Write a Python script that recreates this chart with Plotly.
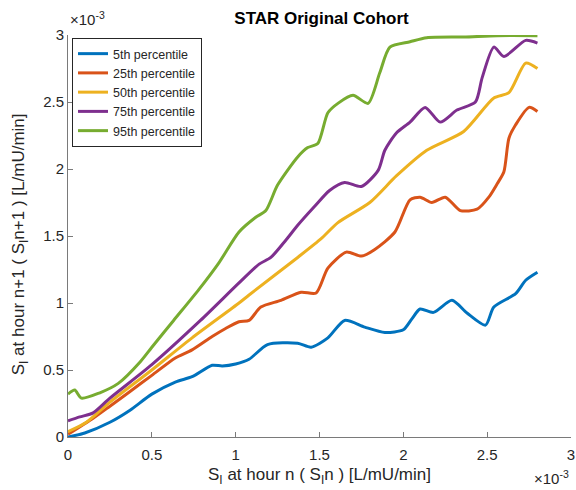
import plotly.graph_objects as go

# Data (values in units of 1e-3 L/mU/min)
p5_x = [0, 0.1, 0.25, 0.37, 0.5, 0.64, 0.74, 0.86, 0.92, 1.0, 1.08, 1.19, 1.37, 1.45, 1.55, 1.65,
        1.77, 1.89, 2.0, 2.05, 2.10, 2.18, 2.29, 2.38, 2.49, 2.54, 2.67, 2.73, 2.80]
p5_y = [0, 0.03, 0.11, 0.20, 0.32, 0.41, 0.45, 0.535, 0.53, 0.545, 0.58, 0.69, 0.70, 0.67, 0.74, 0.87,
        0.82, 0.78, 0.80, 0.88, 0.955, 0.93, 1.02, 0.925, 0.835, 0.97, 1.07, 1.17, 1.23]

p25_x = [0, 0.15, 0.25, 0.37, 0.5, 0.64, 0.74, 0.86, 0.94, 1.02, 1.08, 1.15, 1.27, 1.39, 1.48, 1.55,
         1.66, 1.75, 1.83, 1.95, 2.04, 2.10, 2.17, 2.25, 2.34, 2.44, 2.51, 2.56, 2.60, 2.63, 2.67, 2.75, 2.80]
p25_y = [0.02, 0.14, 0.23, 0.34, 0.46, 0.59, 0.65, 0.75, 0.81, 0.86, 0.87, 0.97, 1.02, 1.08, 1.075, 1.26,
         1.38, 1.35, 1.40, 1.53, 1.77, 1.79, 1.75, 1.79, 1.69, 1.70, 1.79, 1.89, 1.98, 2.23, 2.33, 2.46, 2.43]

p50_x = [0, 0.11, 0.25, 0.5, 0.74, 1.02, 1.08, 1.37, 1.51, 1.61, 1.80, 1.96, 2.14, 2.36, 2.54, 2.63, 2.73, 2.80]
p50_y = [0.04, 0.11, 0.26, 0.50, 0.74, 1.00, 1.06, 1.34, 1.48, 1.60, 1.75, 1.95, 2.14, 2.28, 2.53, 2.57, 2.79, 2.75]

p75_x = [0, 0.07, 0.15, 0.25, 0.5, 0.79, 1.02, 1.14, 1.21, 1.30, 1.37, 1.47, 1.56, 1.65, 1.75, 1.85,
         1.89, 1.96, 2.04, 2.13, 2.22, 2.32, 2.43, 2.47, 2.54, 2.60, 2.73, 2.80]
p75_y = [0.12, 0.15, 0.18, 0.29, 0.54, 0.87, 1.15, 1.29, 1.34, 1.47, 1.58, 1.72, 1.84, 1.90, 1.87, 1.99,
         2.14, 2.27, 2.35, 2.46, 2.35, 2.44, 2.50, 2.68, 2.91, 2.84, 2.96, 2.94]

p95_x = [0, 0.04, 0.08, 0.19, 0.3, 0.43, 0.5, 0.63, 0.78, 0.9, 1.02, 1.12, 1.18, 1.25, 1.37, 1.43, 1.49,
         1.55, 1.61, 1.70, 1.79, 1.86, 1.92, 2.04, 2.14, 2.36, 2.56, 2.80]
p95_y = [0.32, 0.35, 0.29, 0.33, 0.40, 0.56, 0.67, 0.87, 1.10, 1.30, 1.53, 1.64, 1.69, 1.88, 2.09, 2.16, 2.19,
         2.42, 2.49, 2.55, 2.49, 2.72, 2.91, 2.95, 2.98, 2.985, 2.995, 2.995]

names = ["5th percentile", "25th percentile", "50th percentile", "75th percentile", "95th percentile"]
colors = ["#0072BD", "#D95319", "#EDB120", "#7E2F8E", "#77AC30"]
series = [(p5_x, p5_y), (p25_x, p25_y), (p50_x, p50_y), (p75_x, p75_y), (p95_x, p95_y)]
scale = 1e-3
x_ticks = [0, 0.5, 1, 1.5, 2, 2.5, 3]
y_ticks = [0, 0.5, 1, 1.5, 2, 2.5, 3]

FONT = "Liberation Sans, Arial, Helvetica, sans-serif"
TXT = "#262626"
AX = "#7a7a7a"

fig = go.Figure()
for (xs, ys), n, c in zip(series, names, colors):
    fig.add_trace(go.Scatter(
        x=[v * scale for v in xs], y=[v * scale for v in ys], mode="lines", name=n,
        line=dict(color=c, width=3, shape="spline", smoothing=0.7)))

fig.update_layout(
    width=576, height=490,
    margin=dict(l=68, r=1, t=35, b=53),
    paper_bgcolor="white", plot_bgcolor="white",
    font=dict(family=FONT, color=TXT, size=15),
    title=dict(text="<b>STAR Original Cohort</b>", x=(68 + 575) / 2 / 576, xanchor="center",
               y=1 - 18 / 490, yanchor="middle", font=dict(size=17, color="#000000")),
    showlegend=True,
    legend=dict(x=0.008, y=0.9925, xanchor="left", yanchor="top",
                bgcolor="white", bordercolor=TXT, borderwidth=1,
                font=dict(size=12.5, color=TXT), tracegroupgap=0),
)
fig.update_xaxes(range=[0, 3.0002 * scale], tickvals=[t * scale for t in x_ticks],
                 ticktext=[f"{t:g}" for t in x_ticks], ticks="inside", ticklen=5,
                 tickcolor=AX, showline=True, linecolor=AX, linewidth=1, mirror=False,
                 showgrid=False, zeroline=False, tickfont=dict(size=15, color=TXT),
                 ticklabelstandoff=4, ticklabeloverflow="allow")
fig.update_yaxes(range=[0, 3.0002 * scale], tickvals=[t * scale for t in y_ticks],
                 ticktext=[f"{t:g}" for t in y_ticks], ticks="inside", ticklen=5,
                 tickcolor=AX, showline=True, linecolor=AX, linewidth=1, mirror=False,
                 showgrid=False, zeroline=False, tickfont=dict(size=15, color=TXT),
                 ticklabeloverflow="allow")

# exponent labels
fig.add_annotation(text="\u00d710<sup>-3</sup>", xref="paper", yref="paper", x=0.0, y=1.012,
                   xanchor="left", yanchor="bottom", showarrow=False, font=dict(size=15, color=TXT))
fig.add_annotation(text="\u00d710<sup>-3</sup>", xref="paper", yref="paper", x=1.0, y=-0.1,
                   xanchor="right", yanchor="middle", showarrow=False, font=dict(size=15, color=TXT))
# axis titles
fig.add_annotation(text="S<sub>I</sub> at hour n ( S<sub>I</sub>n ) [L/mU/min]", xref="paper", yref="paper",
                   x=0.5, y=-0.097, xanchor="center", yanchor="middle", showarrow=False,
                   font=dict(size=17, color=TXT))
fig.add_annotation(text="S<sub>I</sub> at hour n+1 ( S<sub>I</sub>n+1 ) [L/mU/min]", xref="paper", yref="paper",
                   x=-0.095, y=0.48, xanchor="center", yanchor="middle", textangle=-90, showarrow=False,
                   font=dict(size=17, color=TXT))

fig.write_html("out.html")
